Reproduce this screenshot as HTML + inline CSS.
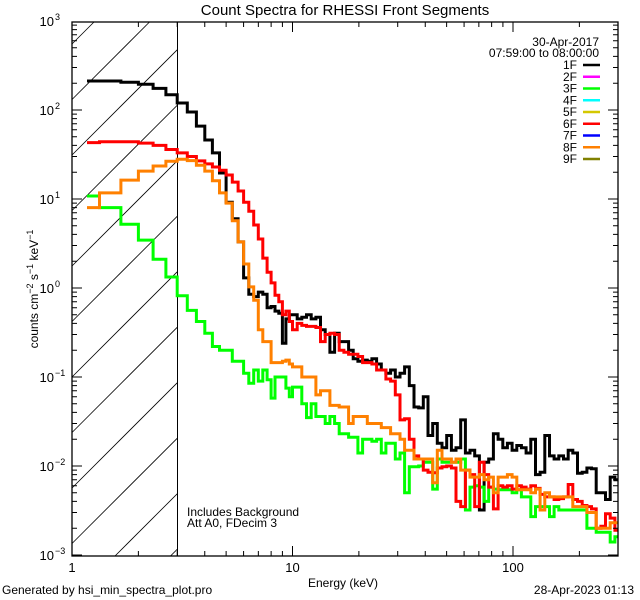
<!DOCTYPE html>
<html><head><meta charset="utf-8"><style>
html,body{margin:0;padding:0;background:#fff;width:640px;height:600px;overflow:hidden;}
svg{display:block;font-family:"Liberation Sans",sans-serif;overflow:hidden;}
</style></head><body>
<svg id="chart" width="640" height="600" viewBox="0 0 640 600" xmlns="http://www.w3.org/2000/svg">
<rect x="0" y="0" width="640" height="600" fill="#fff"/>
<text x="345" y="15" text-anchor="middle" font-size="15">Count Spectra for RHESSI Front Segments</text>
<text transform="translate(38,289) rotate(-90)" text-anchor="middle" font-size="12">counts cm<tspan dy="-5" font-size="9">−2</tspan><tspan dy="5"> s</tspan><tspan dy="-5" font-size="9">−1</tspan><tspan dy="5"> keV</tspan><tspan dy="-5" font-size="9">−1</tspan></text>
<text x="343" y="587" text-anchor="middle" font-size="12">Energy (keV)</text>
<text x="2" y="594" font-size="12">Generated by hsi_min_spectra_plot.pro</text>
<text x="634" y="594" text-anchor="end" font-size="12">28-Apr-2023 01:13</text>
<text x="187" y="516" font-size="12">Includes Background</text>
<text x="187" y="527" font-size="12">Att A0, FDecim 3</text>
<text x="599" y="46" text-anchor="end" font-size="12">30-Apr-2017</text>
<text x="599" y="57" text-anchor="end" font-size="12">07:59:00 to 08:00:00</text>
<g id="hatch"></g>
<g id="series"></g>
<g id="axes"></g>
<g id="legend"></g>
</svg>
<script>
// bin structure: 1/3 keV bins up to 10 keV, then 5% log bins to 300 keV
const lowEdges = [1.17,1.333,1.667,2.0,2.333,2.667,3.0,3.333,3.667,4.0,4.333,4.667,5.0,5.333,5.667,6.0,6.333,6.667,7.0,7.333,7.667,8.0,8.333,8.667,9.0,9.333,9.667,10.0];
const logBinCount = 70;
const logBinRatio = 1.05;

const black = [212,212,205,195,175,148,120,95,66,46,33,19.6,9.2,6,3.3,1.3,0.85,0.8,0.9,0.85,0.6,0.62,0.55,0.52,0.24,0.45,0.5,
0.5,0.45,0.47,0.5,0.45,0.47,0.34,0.3,0.19,0.31,0.25,0.25,0.2,0.16,0.15,0.155,0.15,0.16,0.14,0.12,0.11,0.12,0.1,0.11,0.13,0.08,
0.046,0.045,0.06,0.022,0.03,0.018,0.016,0.022,0.015,0.016,0.033,0.014,0.015,0.013,0.0032,0.011,0.012,0.023,0.02,0.016,0.018,0.015,
0.017,0.016,0.014,0.02,0.008,0.0085,0.022,0.013,0.012,0.013,0.012,0.015,0.014,0.0083,0.0085,0.0095,0.0093,0.005,0.005,0.0042,0.0075,0.007];
const green = [10.8,8,5.2,3.45,2.1,1.33,0.82,0.56,0.42,0.31,0.22,0.2,0.2,0.15,0.15,0.11,0.085,0.12,0.09,0.12,0.093,0.058,0.1,0.1,0.1,0.075,0.06,
0.077,0.077,0.05,0.035,0.05,0.036,0.036,0.03,0.036,0.03,0.023,0.023,0.021,0.021,0.014,0.02,0.02,0.019,0.02,0.014,0.018,0.018,0.012,0.014,0.005,
0.0098,0.0098,0.01,0.011,0.011,0.0055,0.012,0.011,0.011,0.011,0.011,0.012,0.0032,0.0058,0.006,0.0058,0.004,0.0058,0.0055,0.0054,0.0054,0.0054,
0.005,0.0054,0.0045,0.0045,0.0027,0.0035,0.0035,0.0035,0.0027,0.0035,0.0032,0.0032,0.0032,0.0032,0.0032,0.0032,0.002,0.002,0.0018,0.0018,0.0018,0.0014,0.0016];
const red = [43,44,44,42.5,40,36,33,30,26.8,24.8,22.9,21,18.6,15.5,12.3,9.2,7.3,5.1,3.55,2.17,1.5,1.14,0.83,0.7,0.5,0.55,0.42,
0.34,0.4,0.38,0.37,0.37,0.36,0.25,0.3,0.31,0.3,0.2,0.19,0.18,0.18,0.17,0.145,0.145,0.14,0.12,0.12,0.095,0.09,0.063,0.033,0.034,0.02,
0.013,0.012,0.009,0.0085,0.0084,0.0095,0.0098,0.01,0.0095,0.004,0.0035,0.009,0.008,0.0035,0.011,0.008,0.0058,0.0033,0.006,0.0058,0.006,
0.0055,0.006,0.0058,0.0055,0.006,0.0056,0.0048,0.0045,0.0045,0.0042,0.0043,0.0045,0.0062,0.0042,0.004,0.0036,0.0035,0.0033,0.002,0.0021,0.0029,0.0026,0.0019];
const orange = [8,11.7,16.3,20.6,23.5,26.5,28,27,24,20.6,16,11.7,9,5.7,3.3,1.86,1.03,0.73,0.34,0.25,0.25,0.145,0.145,0.145,0.15,0.155,0.14,
0.13,0.13,0.1,0.1,0.1,0.063,0.07,0.07,0.048,0.048,0.046,0.046,0.03,0.036,0.036,0.036,0.03,0.03,0.03,0.027,0.027,0.023,0.023,0.02,0.015,0.015,
0.012,0.012,0.012,0.012,0.0065,0.015,0.012,0.012,0.011,0.012,0.009,0.009,0.0075,0.0075,0.008,0.007,0.0075,0.005,0.0075,0.0075,0.008,0.0075,
0.0054,0.0054,0.0054,0.005,0.0055,0.0032,0.005,0.0045,0.0045,0.0045,0.0045,0.0045,0.0035,0.0035,0.0035,0.003,0.003,0.002,0.002,0.002,0.0023,0.0023];

const legendLabels = ["1F","2F","3F","4F","5F","6F","7F","8F","9F"];
const legendColors = ["#000000","#ff00ff","#00ff00","#00ffff","#d4c800","#ff0000","#0000ff","#ff8000","#808000"];
const xMajorTicks = [1,10,100];
const yExponents = [3,2,1,0,-1,-2,-3];

const NS="http://www.w3.org/2000/svg";
const L=72,R=618,T=22,B=556;
const X0=72, XDEC=220.5, Y0=288, YDEC=89;
function xs(e){return X0+XDEC*Math.log10(e);}
function ys(v){return Y0-YDEC*Math.log10(v);}
function mk(tag,attrs,parent){const el=document.createElementNS(NS,tag);for(const k in attrs)el.setAttribute(k,attrs[k]);parent.appendChild(el);return el;}

const edges=lowEdges.slice();
let e=10;for(let k=0;k<logBinCount;k++){e*=logBinRatio;edges.push(e);}

const svg=document.getElementById('chart');
const defs=mk('defs',{},svg);
const cp=mk('clipPath',{id:'plotclip'},defs);
mk('rect',{x:L,y:T,width:R-L,height:B-T},cp);

// hatch: segments computed within the region [L, x3] x [T, B]
const hatch=document.getElementById('hatch');
const X3=xs(3);
for(let c=155-6*55.5;c<900;c+=55.5){
  // line: y = c - (x - L)
  let xa=L, ya=c;
  let xb=X3, yb=c-(X3-L);
  if(ya>B){xa=L+(ya-B);ya=B;}
  if(yb<T){xb=L+(c-T);yb=T;}
  if(xa>=xb||ya<T||yb>B) continue;
  const ln=mk('line',{x1:xa,y1:ya,x2:xb,y2:yb,stroke:'#000','stroke-width':0.8},hatch);
  
  
}
const vl=mk('line',{x1:Math.round(X3)+0.5,y1:T,x2:Math.round(X3)+0.5,y2:B,stroke:'#000','stroke-width':1},hatch);



// series
const sg=document.getElementById('series');
sg.setAttribute('clip-path','url(#plotclip)');
function stepPath(vals){
  let d='';
  for(let i=0;i<vals.length&&i<edges.length-1;i++){
    const x1=xs(edges[i]),x2=xs(edges[i+1]),y=ys(vals[i]);
    d+=(i===0?'M':'L')+x1.toFixed(1)+','+y.toFixed(1)+'L'+x2.toFixed(1)+','+y.toFixed(1);
  }
  return d;
}
const seriesList=[[black,'#000000','series-1f'],[green,'#00ff00','series-3f'],[red,'#ff0000','series-6f'],[orange,'#ff8000','series-8f']];
seriesList.forEach(s=>{
  const p=mk('path',{d:stepPath(s[0]),fill:'none',stroke:s[1],'stroke-width':3,'stroke-linejoin':'miter'},sg);
  
  
});

// axes
const ax=document.getElementById('axes');
const fr=mk('rect',{x:L,y:T,width:R-L,height:B-T,fill:'none',stroke:'#000','stroke-width':1.3},ax);


let tp='';
for(let d=1;d<=100;d*=10){for(let m=1;m<10;m++){const v=d*m;const x=xs(v);if(x>R)continue;const len=(m===1)?10:5;tp+=`M${x},${B}v${-len}M${x},${T}v${len}`;}}
for(const ex of yExponents){for(let m=1;m<10;m++){if(ex===3&&m>1)continue;const y=ys(m*Math.pow(10,ex));if(y<T-0.5)continue;const len=(m===1)?10:5;tp+=`M${L},${y}h${len}M${R},${y}h${-len}`;}}
const tk=mk('path',{d:tp,stroke:'#000','stroke-width':1,fill:'none'},ax);


xMajorTicks.forEach(v=>{
  const t=mk('text',{x:xs(v),y:B+16,'text-anchor':'middle','font-size':13},ax);
  t.textContent=String(v);
  
  
});
yExponents.forEach(ex=>{
  const y=ys(Math.pow(10,ex));
  const t=mk('text',{x:L-18,y:y+5,'text-anchor':'end','font-size':13},ax);
  t.textContent='10';
  
  
  const s=mk('text',{x:L-17,y:y-1,'text-anchor':'start','font-size':9},ax);
  s.textContent=(ex<0?'−':'')+Math.abs(ex);
  
  
});

// legend
const lg=document.getElementById('legend');
legendLabels.forEach((lab,i)=>{
  const y=65+i*11.75;
  const t=mk('text',{x:577,y:y+4,'text-anchor':'end','font-size':12},lg);
  t.textContent=lab;
  
  
  const l=mk('line',{x1:583,y1:y,x2:600,y2:y,stroke:legendColors[i],'stroke-width':2.5},lg);
  
  
});
</script>
</body></html>
